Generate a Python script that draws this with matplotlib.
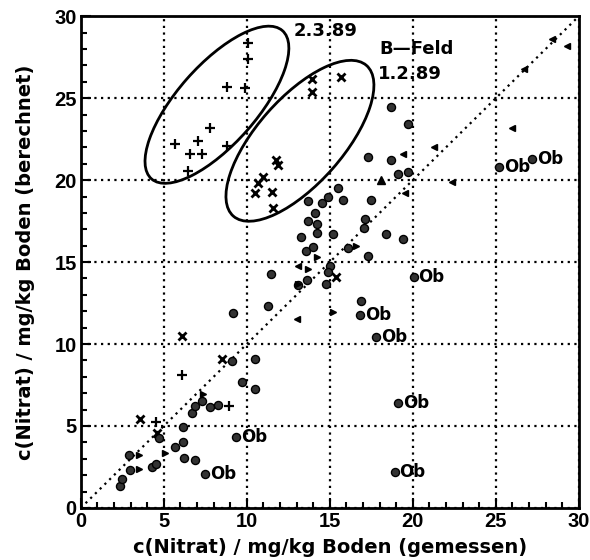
import matplotlib
matplotlib.use('Agg')
import matplotlib.pyplot as plt
from matplotlib.patches import Ellipse
from matplotlib.ticker import MultipleLocator

# Messwerte (gemessen, berechnet) -- 2.3.89
plus_x = [10.1, 10.1, 8.8, 9.9, 7.8, 7.05, 5.66, 6.57, 7.3, 8.8, 6.45, 6.1, 8.9, 4.55]
plus_y = [28.35, 27.4, 25.7, 25.6, 23.2, 22.4, 22.2, 21.6, 21.6, 22.1, 20.55, 8.1, 6.2, 5.25]

# 1.2.89
kreuz_x = [11.75, 11.9, 11.0, 10.7, 10.5, 11.5, 11.6, 13.9, 13.9, 15.7, 6.1, 8.5, 3.55, 4.6, 15.35]
kreuz_y = [21.2, 20.9, 20.2, 19.8, 19.2, 19.3, 18.3, 26.2, 25.4, 26.3, 10.5, 9.1, 5.4, 4.6, 14.1]

# weitere Termine (Kreise)
kreis_x = [2.35, 2.5, 2.95, 2.9, 4.3, 4.5, 4.7, 5.7, 6.15, 6.2, 6.9, 6.15, 6.7, 6.9, 7.3,
           7.8, 8.25, 9.1, 10.5, 9.7, 10.5, 9.15, 11.3, 11.45, 13.6, 14.75, 13.1, 13.25,
           13.55, 14.0, 14.2, 14.2, 13.7, 14.1, 13.7, 14.5, 14.9, 15.5, 15.8, 17.5, 16.1,
           17.3, 17.1, 17.05, 18.4, 19.4, 15.0, 14.9, 17.3, 18.7, 19.1, 19.7, 18.7, 19.7,
           15.2, 16.9]
kreis_y = [1.35, 1.75, 2.3, 3.2, 2.5, 2.7, 4.25, 3.7, 4.0, 3.05, 2.9, 4.95, 5.8, 6.2, 6.5,
           6.15, 6.3, 8.95, 9.1, 7.7, 7.25, 11.9, 12.3, 14.3, 13.9, 13.65, 13.6, 16.5,
           15.7, 15.9, 16.8, 17.3, 17.5, 18.0, 18.7, 18.6, 19.0, 19.5, 18.8, 18.8, 15.85,
           15.4, 17.6, 17.1, 16.7, 16.4, 14.75, 14.4, 21.4, 21.2, 20.4, 20.5, 24.45, 23.4,
           16.7, 12.6]

# kleine Dreiecke
links_x = [19.4, 21.3, 26.0, 26.7, 28.4, 29.3, 22.35, 19.5, 13.1, 13.0]
links_y = [21.6, 22.0, 23.2, 26.8, 28.6, 28.2, 19.9, 19.2, 14.75, 11.5]
rechts_x = [15.2, 7.35, 5.1, 3.5, 3.5, 13.7, 14.2, 16.6, 13.1]
rechts_y = [11.95, 6.95, 3.35, 3.25, 2.4, 14.6, 15.3, 16.0, 13.65]
oben_x = [18.1]
oben_y = [20.0]

# Oberboden-Proben ("Ob")
ob_x = [9.35, 7.5, 18.9, 19.1, 17.8, 16.8, 20.05, 25.2, 27.2]
ob_y = [4.35, 2.1, 2.2, 6.4, 10.4, 11.8, 14.1, 20.8, 21.3]

# Ellipsen: Mittelpunkt, Breite, Hoehe, Winkel
ell_2389 = ((8.2, 24.6), 12.0, 4.8, 49)
ell_1289 = ((13.2, 22.4), 12.2, 5.2, 49)

plt.rcParams['font.family'] = ['DejaVu Sans']
plt.rcParams['font.weight'] = 'bold'

fig = plt.figure(figsize=(5.9, 5.6), dpi=100)
ax = fig.add_axes([0.137, 0.093, 0.844, 0.878])

ax.plot([0, 30], [0, 30], color='black', linestyle=(0, (1, 2)), linewidth=1.6)

ax.plot(plus_x, plus_y, '+', color='black', markersize=7, markeredgewidth=1.6)
ax.plot(kreuz_x, kreuz_y, 'x', color='black', markersize=5.5, markeredgewidth=2)
ax.plot(kreis_x, kreis_y, 'o', color='#333333', markersize=5.8, markeredgecolor='black')
ax.plot(links_x, links_y, '<', color='black', markersize=4.5)
ax.plot(rechts_x, rechts_y, '>', color='black', markersize=5)
ax.plot(oben_x, oben_y, '^', color='black', markersize=6)
ax.plot(ob_x, ob_y, 'o', color='#333333', markersize=5.8, markeredgecolor='black')
for x, y in zip(ob_x, ob_y):
    ax.text(x + 0.3, y, 'Ob', fontsize=12, fontweight='bold', va='center', ha='left')

for (c, w, h, a) in [ell_2389, ell_1289]:
    ax.add_patch(Ellipse(c, w, h, angle=a, fill=False, edgecolor='black', linewidth=2))

ax.text(12.8, 29.1, '2.3.89', fontsize=13, fontweight='bold', va='center')
ax.text(18.0, 28.0, 'B\u2014Feld', fontsize=13, fontweight='bold', va='center')
ax.text(17.9, 26.5, '1.2.89', fontsize=13, fontweight='bold', va='center')

ax.set_xlim(0, 30)
ax.set_ylim(0, 30)
ax.xaxis.set_major_locator(MultipleLocator(5))
ax.yaxis.set_major_locator(MultipleLocator(5))
ax.xaxis.set_minor_locator(MultipleLocator(1))
ax.yaxis.set_minor_locator(MultipleLocator(1))
ax.tick_params(which='both', direction='in', width=1.5, pad=3)
ax.tick_params(which='major', length=7)
ax.tick_params(which='minor', length=4)
for lab in ax.get_xticklabels() + ax.get_yticklabels():
    lab.set_family('Liberation Sans')
    lab.set_fontsize(14.5)
    lab.set_fontweight('bold')
ax.grid(True, which='major', color='black', linestyle=(0, (1, 2)), linewidth=1.6)
for s in ax.spines.values():
    s.set_linewidth(2)

ax.set_xlabel('c(Nitrat) / mg/kg Boden (gemessen)', fontsize=14, fontweight='bold', labelpad=5)
ax.set_ylabel('c(Nitrat) / mg/kg Boden (berechnet)', fontsize=14, fontweight='bold', labelpad=14)

plt.savefig('out.png', dpi=100)
